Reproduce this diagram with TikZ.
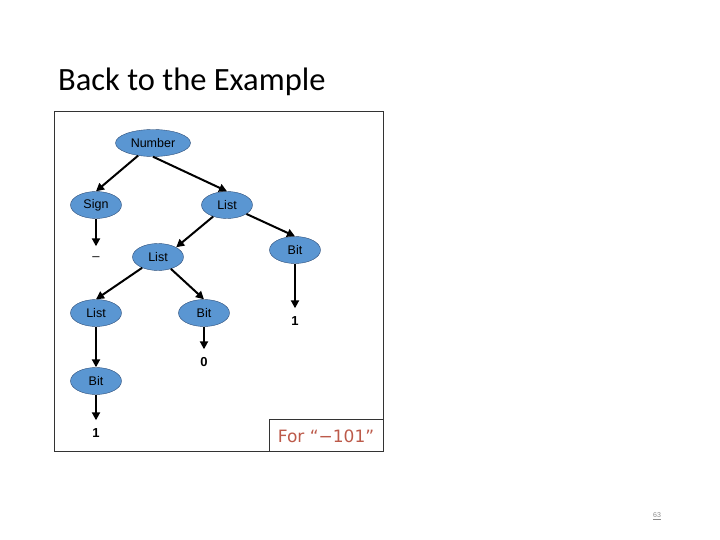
\documentclass[tikz,border=0pt]{standalone}
\usepackage{fontspec}
\setmainfont{Liberation Sans}
\newfontfamily\titulo{Carlito}
\newfontfamily\nota{DejaVu Sans}
\usepackage{tikz}
\usetikzlibrary{positioning,arrows.meta,shapes.geometric}
\definecolor{relleno}{HTML}{5A96D2}
\definecolor{borde}{HTML}{2F4F7A}
\definecolor{rojizo}{HTML}{BC5A4A}
\definecolor{gris}{HTML}{8A8A8A}

\begin{document}
\begin{tikzpicture}[x=1pt, y=-1pt,
  nodo/.style={ellipse, draw=borde, fill=relleno, minimum width=51pt, minimum height=27pt, inner sep=0pt, font=\fontsize{12.5}{14}\selectfont},
  hoja/.style={minimum height=25pt, inner sep=0pt, font=\fontsize{13}{15}\selectfont\bfseries},
  flecha/.style={-{Triangle[length=8pt,width=8pt]}, line width=2pt},
  marco/.style={draw=black!80, line width=0.8pt}
]
\useasboundingbox (0,0) rectangle (720,540);

\node[anchor=base west, inner sep=0pt, font=\titulo\fontsize{32.5}{38}\selectfont] (tit) at (58,91) {Back to the Example};
\draw[marco] (54,111) rectangle (383,451);

\node[nodo, minimum width=75pt] (num) at (153,143) {Number};
\node[nodo] (sign) at (96,205) {Sign};
\node[nodo] (lst1) at (227,205) {List};
\node[nodo] (lst2) at (158,257) {List};
\node[nodo] (bitr) at (295,250) {Bit};
\node[nodo] (lst3) at (96,313) {List};
\node[nodo] (bitm) at (204,313) {Bit};
\node[nodo] (bitb) at (96,381) {Bit};

\node[hoja, font=\fontsize{13}{15}\selectfont] (menos) at (96,259) {--};
\node[hoja] (unor) at (295,321) {1};
\node[hoja] (cero) at (204,362) {0};
\node[hoja] (unob) at (96,433) {1};

\draw[flecha] (num) -- (sign.north);
\draw[flecha] (num.south) -- (lst1.north);
\draw[flecha] (sign) -- (menos.north);
\draw[flecha] (lst1) -- (lst2.north east);
\draw[flecha] (lst1) -- (bitr.north);
\draw[flecha] (lst2) -- (lst3.north);
\draw[flecha] (lst2) -- (bitm.north);
\draw[flecha] (bitr) -- (unor.north);
\draw[flecha] (bitm) -- (cero.north);
\draw[flecha] (lst3) -- (bitb.north);
\draw[flecha] (bitb) -- (unob.north);

\draw[marco] (269,419) rectangle (383,451);
\node[font=\nota\fontsize{17}{20}\selectfont, text=rojizo] (para) at (326,436) {For “−101”};

\node[font=\fontsize{7}{8}\selectfont, text=gris] (pag) at (657,516) {\underline{63}};
\end{tikzpicture}
\end{document}
